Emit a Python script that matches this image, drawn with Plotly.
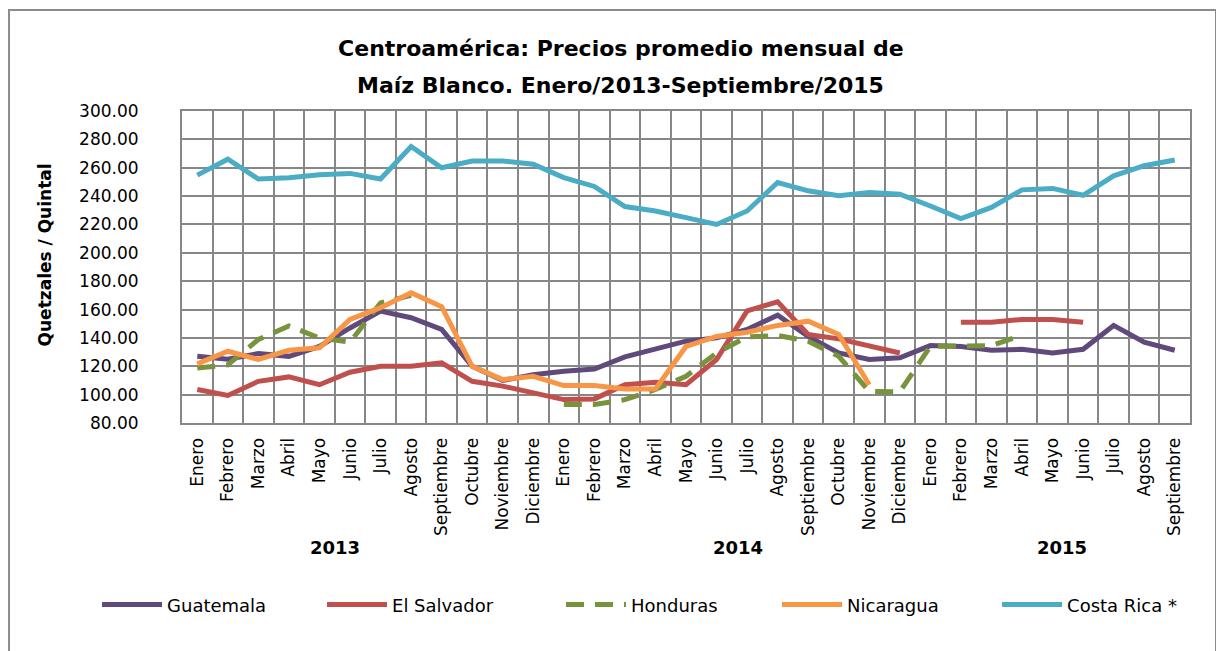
import plotly.graph_objects as go

meses = ["Enero", "Febrero", "Marzo", "Abril", "Mayo", "Junio", "Julio", "Agosto",
         "Septiembre", "Octubre", "Noviembre", "Diciembre"]
etiquetas = meses + meses + meses[:9]
anios = ["2013", "2014", "2015"]

guatemala = [127, 125, 129, 127, 134, 147, 158.9, 154.2, 146, 120, 110, 114,
             116.5, 118, 126.6, 132, 137.7, 140, 146, 156, 141, 129.4, 124.8, 126,
             134.6, 134, 131.3, 132, 129.4, 132, 148.8, 137, 131.3]
el_salvador = [103.6, 99.4, 109.4, 112.5, 107, 115.8, 120, 120, 122.4, 109.4, 106, 101,
               96.5, 97, 107, 108.7, 107, 124.8, 159, 165.5, 142.4, 139.3, 134, 129.4,
               None, 151, 151, 153, 153, 151, None, None, None]
honduras = [118.8, 121, 138.9, 148.4, 140, 137, 164.7, 170, None, None, None, None,
            93, 93, 96.5, 103.6, 112.9, 129.4, 140.7, 141.7, 137.7, 127, 102.3, 102,
            134, 134, 134.5, 142, None, None, None, None, None]
nicaragua = [121.7, 130.6, 124.8, 131.3, 133, 153, 161.3, 171.9, 162, 120, 110.6, 112.9,
             106.4, 106.4, 104, 104, 134, 141, 144, 148.8, 151.8, 142.4, 107, None,
             None, None, None, None, None, None, None, None, None]
costa_rica = [254.8, 266, 252, 253, 255, 256, 252, 275, 260, 264.7, 264.7, 262.5,
              253, 246.8, 232.6, 229.5, 224.8, 220, 229.5, 249.6, 243.7, 240.2, 242.5, 241.3,
              233, 224.2, 232, 244.4, 245.4, 240.6, 254.3, 261.4, 265.4]

x = list(range(len(etiquetas)))

series = [
    ("Guatemala", guatemala, "#604A7B", "solid"),
    ("El Salvador", el_salvador, "#C0504D", "solid"),
    ("Honduras", honduras, "#77933C", "18px,11px"),
    ("Nicaragua", nicaragua, "#F79646", "solid"),
    ("Costa Rica *", costa_rica, "#4BACC6", "solid"),
]

# one legend per series so each entry sits where the original has it
legend_x = [-0.0843, 0.1389, 0.376, 0.5903, 0.8086]
legend_ids = ["legend", "legend2", "legend3", "legend4", "legend5"]

fig = go.Figure()
for (nombre, valores, color, dash), lid in zip(series, legend_ids):
    fig.add_trace(go.Scatter(
        x=x, y=valores, name=nombre, mode="lines",
        line=dict(color=color, width=5, dash=dash),
        connectgaps=False, legend=lid,
    ))

grid = "#878787"
# the page body has an 8px margin, so the figure is 8px smaller each way
fig.update_layout(
    width=1216, height=643,
    margin=dict(l=174, r=34, t=103, b=228),
    paper_bgcolor="white", plot_bgcolor="white",
    font=dict(family="DejaVu Sans", color="black"),
    title=dict(
        text="Centroamérica: Precios promedio mensual de",
        x=0.504, xanchor="center", y=0.9378, yanchor="middle",
        font=dict(size=22, family="DejaVu Sans", weight="bold"),
    ),
    showlegend=True,
)
for lid, lx in zip(legend_ids, legend_x):
    fig.update_layout({lid: dict(
        orientation="h", x=lx, xanchor="left", y=-0.583, yanchor="middle",
        font=dict(size=18), itemwidth=60, bgcolor="rgba(0,0,0,0)",
    )})

fig.add_annotation(text="Maíz Blanco. Enero/2013-Septiembre/2015",
                   x=0.4355, xref="paper", xanchor="center",
                   y=1.0833, yref="paper", yanchor="middle", showarrow=False,
                   font=dict(size=22, weight="bold"))

fig.update_xaxes(
    range=[-0.5, len(x) - 0.5],
    tickvals=x, ticktext=etiquetas, tickangle=-90,
    tickfont=dict(size=17),
    showgrid=False, ticks="", ticklabelstandoff=6,
    minor=dict(tick0=-0.5, dtick=1, showgrid=True, gridcolor=grid, gridwidth=2),
    showline=True, linecolor=grid, linewidth=2, mirror=True, zeroline=False,
    automargin=False,
)
fig.update_yaxes(
    range=[80, 300], dtick=20, tickformat=".2f",
    tickfont=dict(size=17), ticklabelstandoff=38,
    showgrid=True, gridcolor=grid, gridwidth=2,
    showline=True, linecolor=grid, linewidth=2, mirror=True, zeroline=False,
    automargin=False,
)

fig.add_annotation(text="Quetzales / Quintal", textangle=-90,
                   x=-0.136, xref="paper", xanchor="center",
                   y=0.54, yref="paper", yanchor="middle", showarrow=False,
                   font=dict(size=17, weight="bold"))

for anio, pos in zip(anios, [4.5, 17.7, 28.3]):
    fig.add_annotation(text=anio, x=pos, xref="x", xanchor="center",
                       y=-0.40, yref="paper", yanchor="middle",
                       showarrow=False, font=dict(size=18, weight="bold"))

fig.add_shape(type="rect", xref="paper", yref="paper",
              x0=-0.1716, x1=1.0258, y0=-0.8, y1=1.3237,
              line=dict(color="#8C8C8C", width=2), layer="below")

fig.write_html("out.html")
